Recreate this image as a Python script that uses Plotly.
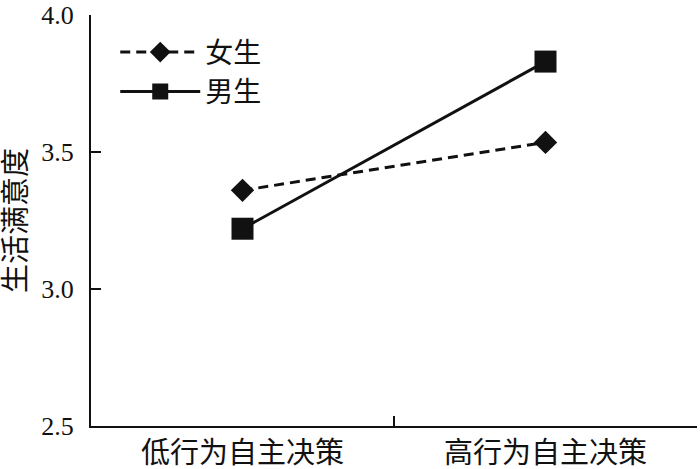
import plotly.graph_objects as go

categories = ["低行为自主决策", "高行为自主决策"]
female = [3.36, 3.535]
male = [3.22, 3.83]
series_names = ["女生", "男生"]
y_ticks = [2.5, 3.0, 3.5, 4.0]
y_tick_labels = ["2.5", "3.0", "3.5", "4.0"]

FONT = "Liberation Serif, Noto Sans CJK SC, serif"

fig = go.Figure()
fig.add_trace(go.Scatter(
    x=categories, y=female, name=series_names[0], mode="lines+markers",
    line=dict(color="#111111", width=3, dash="10px,6px"),
    marker=dict(symbol="diamond", size=18, color="#111111"),
))
fig.add_trace(go.Scatter(
    x=categories, y=male, name=series_names[1], mode="lines+markers",
    line=dict(color="#111111", width=3),
    marker=dict(symbol="square", size=22, color="#111111"),
))

fig.update_layout(
    width=700, height=469,
    margin=dict(l=91, r=3, t=15, b=43),
    paper_bgcolor="white", plot_bgcolor="white",
    font=dict(family=FONT, size=26, color="#111111"),
    showlegend=True,
    legend=dict(x=0.04, y=0.97, xanchor="left", yanchor="top",
                bgcolor="rgba(0,0,0,0)", font=dict(size=28, family=FONT),
                itemwidth=80, tracegroupgap=0),
    xaxis=dict(
        type="category", range=[-0.5, 1.5], tickson="boundaries",
        ticks="inside", ticklen=10, tickwidth=1.5, tickcolor="#111111",
        showline=True, linecolor="#111111", linewidth=2,
        showgrid=False, zeroline=False, automargin=False,
        tickfont=dict(size=29, family=FONT),
    ),
    yaxis=dict(
        range=[2.5, 4.0], tickvals=y_ticks, ticktext=y_tick_labels,
        ticks="inside", ticklen=10, tickwidth=1.5, tickcolor="#111111",
        showline=True, linecolor="#111111", linewidth=2,
        showgrid=False, zeroline=False, automargin=False,
        tickfont=dict(size=26, family=FONT),
        ticklabelstandoff=10,
        title=dict(text="生活满意度", font=dict(size=29, family=FONT)),
    ),
)

fig.write_html(
    "out.html",
    config={"displayModeBar": False},
    post_script="document.body.style.margin='0px';document.body.style.overflow='hidden';",
)
